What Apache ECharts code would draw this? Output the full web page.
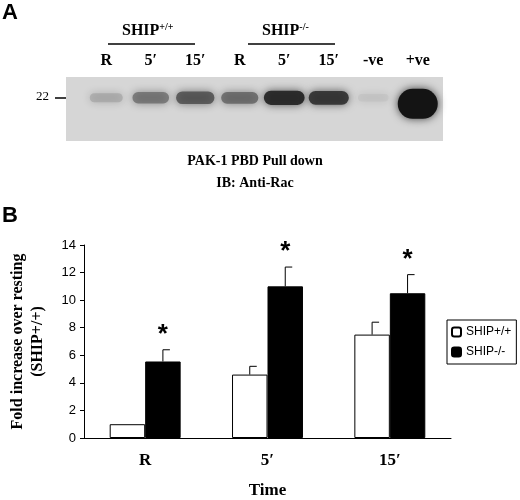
<!DOCTYPE html>
<html>
<head>
<meta charset="utf-8">
<script src="https://cdn.jsdelivr.net/npm/echarts@6/dist/echarts.min.js"></script>
<style>html,body{margin:0;padding:0;background:#fff}#main{width:520px;height:500px}</style>
</head>
<body>
<div id="main"></div>
<script>
// panel B data
var timeLabels = ['R', '5\u2032', '15\u2032'];
var wildValues = [1.0, 4.6, 7.5];
var wildErrors = [0, 0.6, 0.9];
var nullValues = [5.55, 11.0, 10.5];
var nullErrors = [0.85, 1.4, 1.35];
var yTicks = [0, 2, 4, 6, 8, 10, 12, 14];

// panel A blot lanes and band intensity (0..1)
var laneLabels = ['R', '5\u2032', '15\u2032', 'R', '5\u2032', '15\u2032', '-ve', '+ve'];
var bandStrength = [0.25, 0.55, 0.7, 0.6, 0.9, 0.85, 0.05, 1.0];

var serif = 'Liberation Serif, Times New Roman, serif';
var sans = 'Liberation Sans, Arial, sans-serif';

var chart = echarts.init(document.getElementById('main'));

function errorSeries(name, values, errors, offset, star) {
    return {
        type: 'custom',
        name: name + ' err',
        xAxisIndex: 0, yAxisIndex: 0,
        z: 5,
        data: values.map(function (v, i) { return [i, v, v + errors[i]]; }),
        renderItem: function (params, api) {
            var base = api.coord([api.value(0), api.value(1)]);
            var top = api.coord([api.value(0), api.value(2)]);
            var bw = api.size([1, 0])[0] * 0.29;
            var x = base[0] + offset * bw;
            var children = [];
            if (api.value(2) > api.value(1)) {
                children.push({ type: 'line', shape: { x1: x, y1: base[1], x2: x, y2: top[1] }, style: { stroke: '#000', lineWidth: 1 } });
                children.push({ type: 'line', shape: { x1: x, y1: top[1], x2: x + 7, y2: top[1] }, style: { stroke: '#000', lineWidth: 1 } });
            }
            if (star) {
                children.push({ type: 'text', x: x, y: top[1] - 2, style: { text: '*', font: 'bold 26px ' + sans, fill: '#000', align: 'center', verticalAlign: 'bottom' } });
            }
            return { type: 'group', children: children };
        }
    };
}

var blotBands = bandStrength.map(function (s, i) { return [i, 0, s]; });

var option = {
    animation: false,
    grid: [
        { left: 76, right: 69, top: 245, bottom: 53 },
        { left: 84, right: 80, top: 77, height: 64 }
    ],
    legend: {
        data: ['SHIP+/+', 'SHIP-/-'],
        orient: 'vertical',
        left: 447, top: 320,
        itemWidth: 9, itemHeight: 9, itemGap: 8,
        padding: [6, 5, 6, 4],
        borderColor: '#000', borderWidth: 1,
        textStyle: { fontFamily: sans, fontSize: 12, color: '#000' }
    },
    xAxis: [
        {
            type: 'category', gridIndex: 0, data: timeLabels,
            axisLine: { lineStyle: { color: '#000' } },
            axisTick: { length: 5, lineStyle: { color: '#000' } },
            axisLabel: { fontFamily: serif, fontWeight: 'bold', fontSize: 17, color: '#000', margin: 14 },
            name: 'Time', nameLocation: 'middle', nameGap: 44,
            nameTextStyle: { fontFamily: serif, fontWeight: 'bold', fontSize: 17, color: '#000' }
        },
        {
            type: 'category', gridIndex: 1, data: laneLabels, position: 'top',
            axisLine: { show: false }, axisTick: { show: false },
            axisLabel: { fontFamily: serif, fontWeight: 'bold', fontSize: 16, color: '#000', margin: 8 }
        }
    ],
    yAxis: [
        {
            type: 'value', gridIndex: 0, min: 0, max: 14, interval: 2,
            axisLine: { show: true, lineStyle: { color: '#000' } },
            axisTick: { show: true, length: 4, lineStyle: { color: '#000' } },
            splitLine: { show: false },
            axisLabel: { fontFamily: sans, fontSize: 13, color: '#000', margin: 8,
                formatter: function (v) { return yTicks.indexOf(v) >= 0 ? v : ''; } },
            name: 'Fold increase over resting\n(SHIP+/+)', nameLocation: 'middle', nameGap: 36,
            nameTextStyle: { fontFamily: serif, fontWeight: 'bold', fontSize: 16, color: '#000', lineHeight: 20 }
        },
        { type: 'value', gridIndex: 1, min: -1, max: 1, show: false }
    ],
    series: [
        {
            type: 'bar', name: 'SHIP+/+', data: wildValues, barWidth: '29%', barGap: '0%',
            itemStyle: { color: '#fff', borderColor: '#000', borderWidth: 1 }
        },
        {
            type: 'bar', name: 'SHIP-/-', data: nullValues, barWidth: '29%',
            itemStyle: { color: '#000', borderColor: '#000', borderWidth: 1 }
        },
        errorSeries('SHIP+/+', wildValues, wildErrors, -0.5, false),
        errorSeries('SHIP-/-', nullValues, nullErrors, 0.5, true),
        {
            type: 'custom', name: 'blot', xAxisIndex: 1, yAxisIndex: 1, z: 3,
            data: blotBands,
            renderItem: function (params, api) {
                var c = api.coord([api.value(0), 0.35]);
                var s = api.value(2);
                var w = 30 + s * 12, h = 7 + s * 8;
                if (s > 0.95) { h = 30; w = 40; }
                var g = Math.round(190 - s * 170);
                return {
                    type: 'rect',
                    shape: { x: c[0] - w / 2, y: c[1] - h / 2 + (s > 0.95 ? 6 : 0), width: w, height: h, r: h / 2 },
                    style: { fill: 'rgb(' + g + ',' + g + ',' + g + ')', shadowBlur: 8, shadowColor: 'rgba(0,0,0,' + (0.3 + s * 0.4) + ')', opacity: 0.3 + s * 0.7 }
                };
            }
        }
    ],
    graphic: [
        { type: 'rect', z: 1, shape: { x: 66, y: 77, width: 377, height: 64 }, style: { fill: '#d6d6d6' } },
        { type: 'text', left: 2, top: 2, style: { text: 'A', font: 'bold 22px ' + sans, fill: '#000' } },
        { type: 'text', left: 2, top: 205, style: { text: 'B', font: 'bold 22px ' + sans, fill: '#000' } },
        { type: 'text', left: 122, top: 22, style: { rich: { b: { font: 'bold 16px ' + serif, fill: '#000' }, s: { font: 'bold 10px ' + serif, fill: '#000', verticalAlign: 'top', padding: [0, 0, 8, 0] } }, text: '{b|SHIP}{s|+/+}' } },
        { type: 'line', shape: { x1: 108, y1: 44, x2: 195, y2: 44 }, style: { stroke: '#000', lineWidth: 1.5 } },
        { type: 'text', left: 262, top: 22, style: { rich: { b: { font: 'bold 16px ' + serif, fill: '#000' }, s: { font: 'bold 10px ' + serif, fill: '#000', verticalAlign: 'top', padding: [0, 0, 8, 0] } }, text: '{b|SHIP}{s|-/-}' } },
        { type: 'line', shape: { x1: 248, y1: 44, x2: 335, y2: 44 }, style: { stroke: '#000', lineWidth: 1.5 } },
        { type: 'text', left: 36, top: 90, style: { text: '22', font: '13px ' + serif, fill: '#000' } },
        { type: 'line', shape: { x1: 55, y1: 98, x2: 66, y2: 98 }, style: { stroke: '#000', lineWidth: 1.5 } },
        { type: 'text', x: 255, y: 154, style: { text: 'PAK-1 PBD Pull down', font: 'bold 14px ' + serif, fill: '#000', align: 'center' } },
        { type: 'text', x: 255, y: 176, style: { text: 'IB: Anti-Rac', font: 'bold 14px ' + serif, fill: '#000', align: 'center' } }
    ]
};
chart.setOption(option);
</script>
</body>
</html>
